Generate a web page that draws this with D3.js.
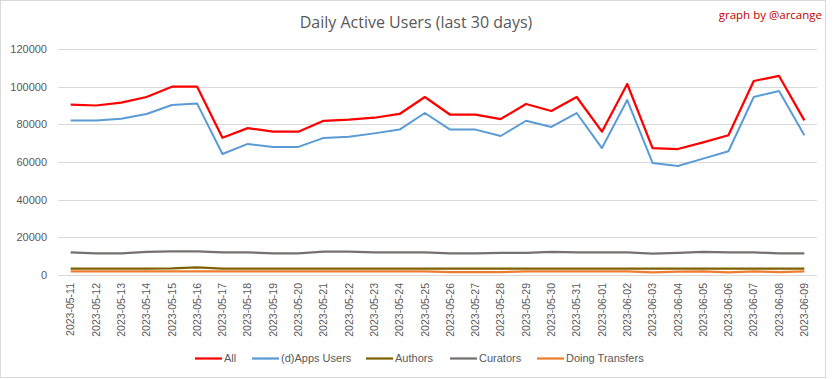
<!DOCTYPE html>
<html><head><meta charset="utf-8">
<script src="https://cdn.jsdelivr.net/npm/d3@7"></script>
<style>body{margin:0;background:#fff;} svg{display:block;font-family:"Liberation Sans",Arial,sans-serif;}</style>
</head><body>
<svg id="c" width="833" height="379"></svg>
<script>
const dates = ["2023-05-11","2023-05-12","2023-05-13","2023-05-14","2023-05-15","2023-05-16","2023-05-17","2023-05-18","2023-05-19","2023-05-20","2023-05-21","2023-05-22","2023-05-23","2023-05-24","2023-05-25","2023-05-26","2023-05-27","2023-05-28","2023-05-29","2023-05-30","2023-05-31","2023-06-01","2023-06-02","2023-06-03","2023-06-04","2023-06-05","2023-06-06","2023-06-07","2023-06-08","2023-06-09"];
const allUsers = [90500,90000,91500,94500,100000,100000,72900,78000,76100,76100,81900,82500,83500,85500,94500,85100,85100,82800,90800,87100,94500,76100,101400,67400,66900,70400,74200,103000,105700,82100];
const appsUsers = [82000,82000,83000,85500,90300,91000,64250,69600,68000,68000,72800,73400,75200,77200,86000,77200,77200,73800,81900,78600,86000,67400,92900,59500,57900,61800,65700,94500,97700,74200];
const authors = [3400,3400,3400,3400,3500,4000,3400,3400,3400,3400,3400,3400,3400,3400,3400,3400,3400,3400,3400,3400,3400,3400,3400,3400,3400,3400,3400,3400,3400,3400];
const curators = [12000,11500,11500,12300,12500,12500,12000,12000,11500,11500,12400,12400,12000,12000,12000,11500,11500,11800,11800,12300,12000,12000,12000,11400,11800,12300,12000,12000,11500,11500];
const transfers = [1900,1900,1900,1900,1900,1900,1900,1900,1900,1900,1900,1900,1900,1900,1900,1500,1500,1500,1900,1900,1900,1900,1900,1400,1800,1900,1400,1900,1500,1900];
const yTicks = [0,20000,40000,60000,80000,100000,120000];
const seriesNames = ["All","(d)Apps Users","Authors","Curators","Doing Transfers"];
const seriesColors = ["#ff0000","#5b9bd5","#7f6000","#767171","#ed7d31"];
const seriesData = [allUsers,appsUsers,authors,curators,transfers];

const svg = d3.select("#c");
svg.append("rect").attr("x",0.5).attr("y",0.5).attr("width",825).attr("height",377)
  .attr("fill","#fff").attr("stroke","#d9d9d9");

const x = d3.scaleBand().domain(dates).range([58,817]);
const y = d3.scaleLinear().domain([0,120000]).range([275,49]);

// grid
svg.append("g").selectAll("line").data(yTicks).join("line")
  .attr("x1",58).attr("x2",817).attr("y1",d=>Math.round(y(d))+0.5).attr("y2",d=>Math.round(y(d))+0.5)
  .attr("stroke","#d9d9d9").attr("stroke-width",1);

// y axis labels
const yAxis = svg.append("g").attr("transform","translate(47,0)")
  .call(d3.axisLeft(y).tickValues(yTicks).tickSize(0).tickPadding(0).tickFormat(d3.format("d")));
yAxis.select(".domain").remove();
yAxis.selectAll("text").attr("fill","#595959").style("font-size","11px").style("font-family","Liberation Sans, Arial, sans-serif");

// x axis labels
const xAxis = svg.append("g").attr("transform","translate(0,275)")
  .call(d3.axisBottom(x).tickSize(0).tickPadding(0));
xAxis.select(".domain").remove();
xAxis.selectAll("text").attr("fill","#595959").style("font-size","10.5px").style("font-family","Liberation Sans, Arial, sans-serif")
  .attr("transform","rotate(-90)").attr("text-anchor","end").attr("x",-8).attr("y",0).attr("dy","0.35em");

// lines
const line = d3.line().x((d,i)=>x(dates[i])+x.bandwidth()/2).y(d=>y(d));
const order = [4,2,3,1,0];
order.forEach(i=>{
  svg.append("path").datum(seriesData[i]).attr("d",line).attr("fill","none")
    .attr("stroke",seriesColors[i]).attr("stroke-width",i===1?2:2.25).attr("stroke-linejoin","round");
});

// title
svg.append("text").attr("x",416).attr("y",28).attr("text-anchor","middle")
  .attr("fill","#595959").style("font-size","16px").style("font-family","Open Sans, sans-serif").text("Daily Active Users (last 30 days)");
svg.append("text").attr("x",822).attr("y",19).attr("text-anchor","end")
  .attr("fill","#c00000").style("font-size","11.5px").style("font-family","Open Sans, sans-serif").text("graph by @arcange");

// legend
const legX = [195,252,366,450,537];
const leg = svg.append("g");
seriesNames.forEach((n,i)=>{
  leg.append("line").attr("x1",legX[i]).attr("x2",legX[i]+27).attr("y1",358.5).attr("y2",358.5)
    .attr("stroke",seriesColors[i]).attr("stroke-width",2.25);
  leg.append("text").attr("x",legX[i]+29).attr("y",358).attr("dy","0.35em").attr("fill","#595959")
    .style("font-size","11px").text(n);
});
</script>
</body></html>
